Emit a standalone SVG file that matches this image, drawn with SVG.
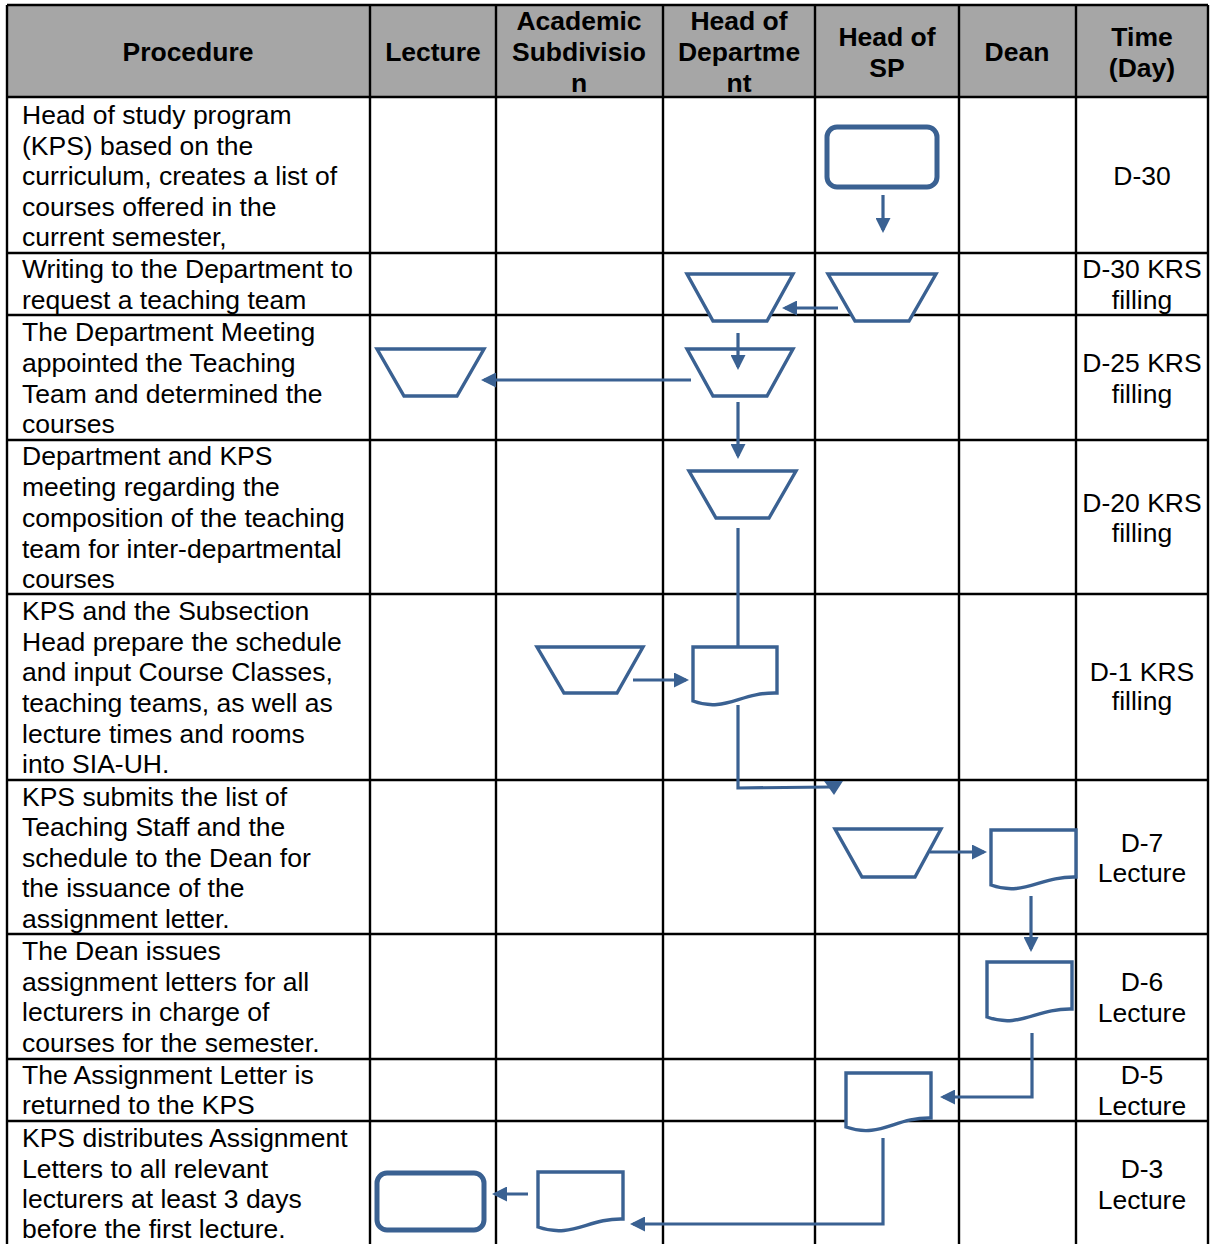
<svg xmlns="http://www.w3.org/2000/svg" width="1216" height="1244" viewBox="0 0 1216 1244">
<style>
text{font-family:"Liberation Sans",Arial,sans-serif;font-size:26.5px;fill:#000}
.h{font-weight:bold;text-anchor:middle}
.t{text-anchor:middle}
.grid{stroke:#000;stroke-width:2.4;fill:none}
.shp{fill:#fff;stroke:#3a6192;stroke-width:3.4;stroke-linejoin:miter}
.term{fill:#fff;stroke:#3a6192;stroke-width:5}
.con{fill:none;stroke:#3a6192;stroke-width:3.2}
.arr{marker-end:url(#ah)}
</style>
<defs>
<marker id="ah" viewBox="0 0 10 10" refX="8" refY="5" markerWidth="15" markerHeight="15" markerUnits="userSpaceOnUse" orient="auto">
<path d="M0,0 L10,5 L0,10 z" fill="#3a6192"/>
</marker>
</defs>
<rect width="1216" height="1244" fill="#fff"/>
<g id="table">
<rect x="7" y="5" width="1201" height="92" fill="#a6a6a6"/>
<path class="grid" d="M7,5V1244M370,5V1244M496,5V1244M663,5V1244M815,5V1244M959,5V1244M1076,5V1244M1208,5V1244"/>
<path class="grid" d="M7,5H1208M7,97H1208M7,253H1208M7,315H1208M7,440H1208M7,594H1208M7,780H1208M7,934H1208M7,1059H1208M7,1121H1208"/>
</g>
<g id="header">
<text class="h" x="188" y="61">Procedure</text>
<text class="h" x="433" y="61">Lecture</text>
<text class="h" x="579" y="30">Academic<tspan x="579" y="61">Subdivisio</tspan><tspan x="579" y="92">n</tspan></text>
<text class="h" x="739" y="30">Head of<tspan x="739" y="61">Departme</tspan><tspan x="739" y="92">nt</tspan></text>
<text class="h" x="887" y="46">Head of<tspan x="887" y="77">SP</tspan></text>
<text class="h" x="1017" y="61">Dean</text>
<text class="h" x="1142" y="46">Time<tspan x="1142" y="77">(Day)</tspan></text>
</g>
<g id="procedures">
<text x="22" y="124">Head of study program<tspan x="22" y="154.5">(KPS) based on the</tspan><tspan x="22" y="185">curriculum, creates a list of</tspan><tspan x="22" y="215.5">courses offered in the</tspan><tspan x="22" y="246">current semester,</tspan></text>
<text x="22" y="278">Writing to the Department to<tspan x="22" y="309">request a teaching team</tspan></text>
<text x="22" y="341">The Department Meeting<tspan x="22" y="372">appointed the Teaching</tspan><tspan x="22" y="403">Team and determined the</tspan><tspan x="22" y="433">courses</tspan></text>
<text x="22" y="465">Department and KPS<tspan x="22" y="496">meeting regarding the</tspan><tspan x="22" y="527">composition of the teaching</tspan><tspan x="22" y="558">team for inter-departmental</tspan><tspan x="22" y="588">courses</tspan></text>
<text x="22" y="620">KPS and the Subsection<tspan x="22" y="651">Head prepare the schedule</tspan><tspan x="22" y="681">and input Course Classes,</tspan><tspan x="22" y="712">teaching teams, as well as</tspan><tspan x="22" y="743">lecture times and rooms</tspan><tspan x="22" y="773">into SIA-UH.</tspan></text>
<text x="22" y="806">KPS submits the list of<tspan x="22" y="836">Teaching Staff and the</tspan><tspan x="22" y="867">schedule to the Dean for</tspan><tspan x="22" y="897">the issuance of the</tspan><tspan x="22" y="928">assignment letter.</tspan></text>
<text x="22" y="960">The Dean issues<tspan x="22" y="991">assignment letters for all</tspan><tspan x="22" y="1021">lecturers in charge of</tspan><tspan x="22" y="1052">courses for the semester.</tspan></text>
<text x="22" y="1084">The Assignment Letter is<tspan x="22" y="1114">returned to the KPS</tspan></text>
<text x="22" y="1147">KPS distributes Assignment<tspan x="22" y="1178">Letters to all relevant</tspan><tspan x="22" y="1208">lecturers at least 3 days</tspan><tspan x="22" y="1238">before the first lecture.</tspan></text>
</g>
<g id="times">
<text class="t" x="1142" y="185">D-30</text>
<text class="t" x="1142" y="278">D-30 KRS<tspan x="1142" y="309">filling</tspan></text>
<text class="t" x="1142" y="372">D-25 KRS<tspan x="1142" y="403">filling</tspan></text>
<text class="t" x="1142" y="512">D-20 KRS<tspan x="1142" y="542">filling</tspan></text>
<text class="t" x="1142" y="681">D-1 KRS<tspan x="1142" y="710">filling</tspan></text>
<text class="t" x="1142" y="852">D-7<tspan x="1142" y="882">Lecture</tspan></text>
<text class="t" x="1142" y="991">D-6<tspan x="1142" y="1022">Lecture</tspan></text>
<text class="t" x="1142" y="1084">D-5<tspan x="1142" y="1115">Lecture</tspan></text>
<text class="t" x="1142" y="1178">D-3<tspan x="1142" y="1209">Lecture</tspan></text>
</g>
<g id="start"><rect class="term" x="827" y="127" width="110" height="60" rx="10"/></g>
<g id="sp-request"><path class="shp" d="M828,274H936L909,321H855Z"/></g>
<g id="dept-request"><path class="shp" d="M687,274H793L767,321H713Z"/></g>
<g id="dept-meeting"><path class="shp" d="M687,349H793L767,396H713Z"/></g>
<g id="lecture-team"><path class="shp" d="M377,349H484L457,396H404Z"/></g>
<g id="dept-kps-meeting"><path class="shp" d="M689,471H796L769,518H716Z"/></g>
<g id="acad-input"><path class="shp" d="M537,647H643L617,693H564Z"/></g>
<g id="dept-schedule-doc"><path class="shp" d="M693,647H777V693C740,692 725,713 693,701Z"/></g>
<g id="sp-submit"><path class="shp" d="M835,829H941L915,877H862Z"/></g>
<g id="dean-doc"><path class="shp" d="M991,830H1076V877C1040,876 1024,897 991,885Z"/></g>
<g id="dean-letter"><path class="shp" d="M987,962H1072V1009C1036,1008 1020,1029 987,1017Z"/></g>
<g id="sp-letter"><path class="shp" d="M846,1073H931V1118C895,1117 880,1139 846,1127Z"/></g>
<g id="acad-letter"><path class="shp" d="M538,1172H623V1219C588,1218 572,1239 538,1227Z"/></g>
<g id="end"><rect class="term" x="377" y="1173" width="107" height="57" rx="10"/></g>
<g id="connectors">
<path class="con arr" d="M883,195V230"/>
<path class="con arr" d="M838,308H785"/>
<path class="con arr" d="M738,333V367"/>
<path class="con arr" d="M691,380H484"/>
<path class="con arr" d="M738,402V456"/>
<path class="con" d="M738,528V647"/>
<path class="con arr" d="M633,680H686"/>
<path class="con" d="M738,705V788L830,787"/>
<path d="M824,781H843L834,795Z" fill="#3a6192"/>
<path class="con arr" d="M930,852H984"/>
<path class="con arr" d="M1031,896V949"/>
<path class="con arr" d="M1032,1033V1097H943"/>
<path class="con arr" d="M883,1138V1224H633"/>
<path class="con arr" d="M528,1194H495"/>
</g>
</svg>
